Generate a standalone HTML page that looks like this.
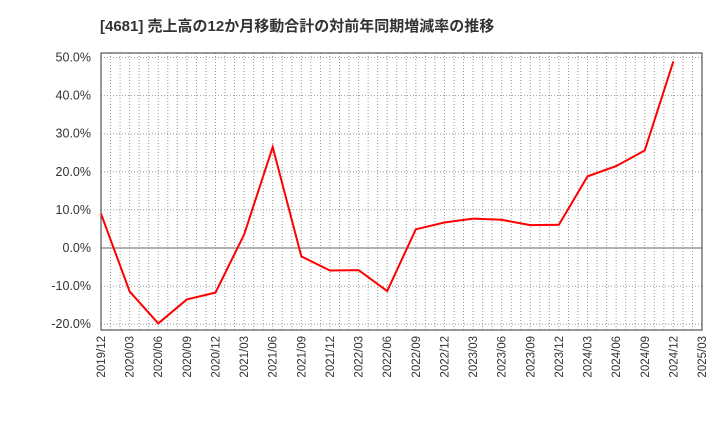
<!DOCTYPE html>
<html><head><meta charset="utf-8"><style>
body{margin:0;background:#fff;}
text{font-family:"Liberation Sans","Noto Sans CJK JP",sans-serif;}
</style></head><body>
<svg id="chart" width="720" height="440" xmlns="http://www.w3.org/2000/svg">
<text x="100" y="31" font-size="15" font-weight="bold" fill="#333">[4681]  売上高の12か月移動合計の対前年同期増減率の推移</text>
<g id="grid"></g><g id="axes"></g><g id="series"></g>
</svg>
<script>
const categories=["2019/12","2020/03","2020/06","2020/09","2020/12","2021/03","2021/06","2021/09","2021/12","2022/03","2022/06","2022/09","2022/12","2023/03","2023/06","2023/09","2023/12","2024/03","2024/06","2024/09","2024/12","2025/03"];
const values=[9.0,-11.4,-19.8,-13.5,-11.7,3.5,26.5,-2.2,-5.9,-5.8,-11.3,4.9,6.7,7.7,7.4,6.0,6.1,18.8,21.5,25.6,49.0,null];
const yTicks=[50,40,30,20,10,0,-10,-20];
const NS="http://www.w3.org/2000/svg";
const L=101,R=702,T=53,B=330;
const x=i=>L+(R-L)*i/(categories.length-1);
const y=v=>248-v*3.81;
function mk(tag,attrs,parent){const e=document.createElementNS(NS,tag);for(const k in attrs)e.setAttribute(k,attrs[k]);document.getElementById(parent).appendChild(e);return e;}
yTicks.forEach(v=>{
  const g=mk('line',{x1:L,x2:R,y1:y(v),y2:y(v),stroke:v===0?'#666':'#999','stroke-dasharray':v===0?'':'1,2','stroke-width':1},'grid');
  
  
  const t=mk('text',{x:91,y:y(v)+4,'text-anchor':'end','font-size':12.5,fill:'#333'},'axes');
  
  
  t.textContent=v.toFixed(1)+'%';
});
for(let m=1;m<(categories.length-1)*3;m++){
  const g=mk('line',{x1:x(m/3),x2:x(m/3),y1:T,y2:B,stroke:'#999','stroke-dasharray':'1,2'},'grid');
  
  
}
categories.forEach((c,i)=>{
  const t=mk('text',{transform:`translate(${x(i)+4},${B+6}) rotate(-90)`,'text-anchor':'end','font-size':11.5,fill:'#333'},'axes');
  
  
  t.textContent=c;
});
const f=mk('rect',{x:L,y:T,width:R-L,height:B-T,fill:'none',stroke:'#333'},'axes');


const pts=values.map((v,i)=>v===null?null:x(i)+','+y(v)).filter(p=>p);
const p=mk('polyline',{points:pts.join(' '),fill:'none',stroke:'#f00','stroke-width':2},'series');


</script>
</body></html>
